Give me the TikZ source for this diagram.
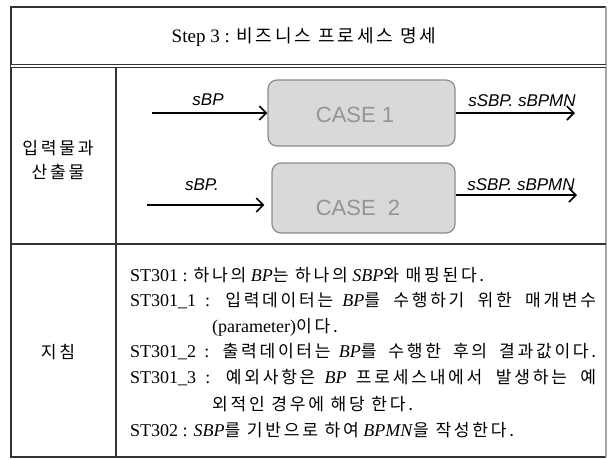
\documentclass[tikz,border=0pt]{standalone}
\usepackage{fontspec}
\setmainfont{Liberation Serif}
\setsansfont{Liberation Sans}
\newfontfamily\krfont{Noto Sans CJK KR}[Scale=0.95,LetterSpace=16]
\newcommand\ko[1]{{\krfont #1}}
\usetikzlibrary{arrows.meta}

\begin{document}
\begin{tikzpicture}[x=1pt,y=-1pt,>={Straight Barb[length=7pt,width=14pt]},
  rule/.style={draw=black!80,line width=1.3pt},
  casebox/.style={draw=black!45,fill=black!15,rounded corners=9pt,line width=1.2pt},
  casetxt/.style={font=\sffamily\fontsize{22}{22}\selectfont,text=black!42},
  flow/.style={->,line width=1.6pt},
  tag/.style={font=\sffamily\itshape\fontsize{17}{17}\selectfont,inner sep=0pt},
  body/.style={font=\fontsize{18}{18}\selectfont,inner sep=0pt,anchor=west}]
\useasboundingbox (0,0) rectangle (608,459);
% table
\draw[rule] (606,457) -- (11,457) -- (11,7) -- (606,7);
\draw[rule,draw=black!35] (606,7) -- (606,457);
\draw[rule,double,double distance=1.4pt] (11,66) -- (606,66);
\draw[rule] (116,68) -- (116,457);
\draw[rule] (11,244) -- (606,244);
\node[font=\fontsize{19}{19}\selectfont] (title) at (304,37) {Step 3 : \ko{비즈니스 프로세스 명세}};
\node[body,anchor=center] (io1) at (58,148) {\ko{입력물과}};
\node[body,anchor=center] (io2) at (58,172) {\ko{산출물}};
\node[body,anchor=center] (rule) at (58,352) {\ko{지침}};
% cases
\node[casebox,minimum width=187pt,minimum height=66pt] (case1) at (361.5,113) {};
\node[casebox,minimum width=183pt,minimum height=70pt] (case2) at (363.5,198) {};
\node[casetxt] (t1) at (355,115) {CASE 1};
\node[casetxt] (t2) at (358,208) {CASE\ \ 2};
\coordinate (in1) at (152,113);
\coordinate (out1) at (575,113);
\coordinate (in2) at (147,205);
\coordinate (out2) at (577,195);
\draw[flow] (in1) -- (case1.west);
\draw[flow] (case1.east) -- (out1);
\draw[flow] (in2) -- ([shift={(-7pt,-7pt)}]case2.west);
\draw[flow] ([yshift=3pt]case2.east) -- (out2);
\node[tag] (l1) at (208,100) {sBP};
\node[tag] (l2) at (522,101) {sSBP. sBPMN};
\node[tag] (l3) at (202,185) {sBP.};
\node[tag] (l4) at (521,185) {sSBP. sBPMN};
% rules
\node[body] (r1) at (130,275) {ST301 : \ko{하나의} \textit{BP}\ko{는 하나의} \textit{SBP}\ko{와 매핑된다.}};
\node[body] (r2) at (130,301) {\makebox[466pt][s]{ST301\_1 : \ko{입력데이터는} \textit{BP}\ko{를 수행하기 위한 매개변수}}};
\node[body] (r3) at (212,327) {(parameter)\ko{이다.}};
\node[body] (r4) at (130,352) {\makebox[466pt][s]{ST301\_2 : \ko{출력데이터는} \textit{BP}\ko{를 수행한 후의 결과값이다.}}};
\node[body] (r5) at (130,378) {\makebox[466pt][s]{ST301\_3 : \ko{예외사항은} \textit{BP} \ko{프로세스내에서 발생하는 예}}};
\node[body] (r6) at (212,404) {\ko{외적인 경우에 해당 한다.}};
\node[body] (r7) at (130,430) {ST302 : \textit{SBP}\ko{를 기반으로 하여} \textit{BPMN}\ko{을 작성한다.}};
\end{tikzpicture}
\end{document}
